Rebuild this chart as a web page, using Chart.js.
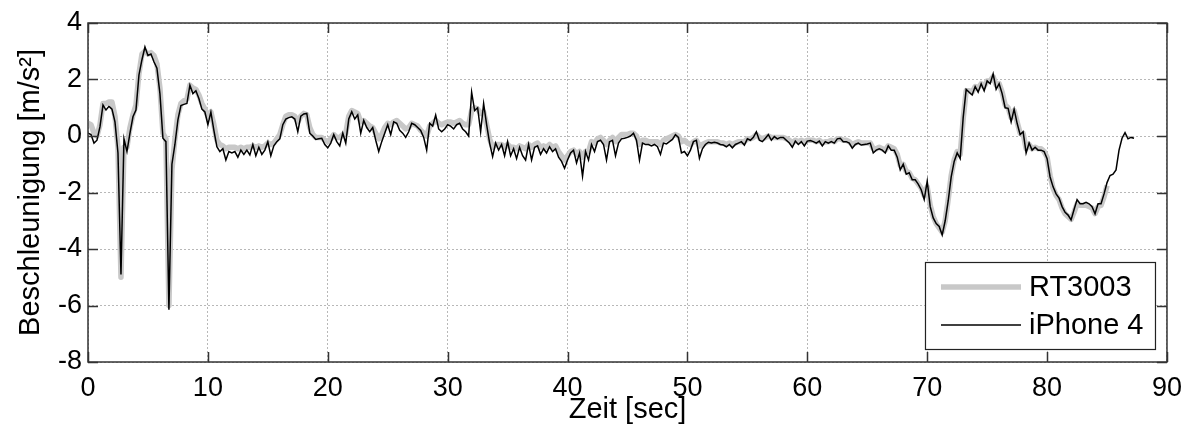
<!DOCTYPE html>
<html>
<head>
<meta charset="utf-8">
<title>Beschleunigung RT3003 / iPhone 4</title>
<script src="https://cdn.jsdelivr.net/npm/chart.js@4"></script>
<style>
  html, body { margin: 0; padding: 0; background: #fff; }
  #wrap { width: 1192px; height: 435px; }
</style>
</head>
<body>
<div id="wrap"><canvas id="beschleunigung" width="1192" height="435"></canvas></div>
<script>
// sampling step of both series (sec)
const sampleStep = 0.25;

// iPhone 4, 0 .. 87.25 s
const iphone4 = [
  0.10, 0.05, -0.25, -0.15, 0.33, 1.10, 0.92, 1.05,      // 0
  0.95, 0.50, -0.60, -4.90, -0.10, -0.55, 0.10, 0.68,    // 2
  0.92, 2.16, 2.70, 3.15, 2.85, 2.90, 2.63, 2.40,        // 4
  1.50, -0.08, -0.20, -6.15, -1.00, -0.30, 0.57, 1.08,   // 6
  1.12, 1.15, 1.80, 1.50, 1.60, 1.33, 0.95, 0.85,        // 8
  0.40, 0.85, 0.20, -0.38, -0.55, -0.45, -0.85, -0.55,   // 10
  -0.60, -0.55, -0.75, -0.50, -0.65, -0.50, -0.67, -0.30, // 12
  -0.70, -0.40, -0.65, -0.50, -0.20, -0.70, -0.35, -0.20, // 14
  -0.10, 0.40, 0.60, 0.65, 0.68, 0.60, 0.15, 0.70,       // 16
  0.78, 0.80, 0.10, 0.00, -0.12, -0.10, -0.08, -0.30,    // 18
  -0.42, -0.25, 0.05, -0.20, -0.35, 0.10, -0.25, 0.60,   // 20
  0.86, 0.60, 0.75, 0.10, 0.55, 0.30, 0.15, 0.30,        // 22
  -0.15, -0.55, -0.20, 0.10, 0.40, 0.05, 0.50, 0.45,     // 24
  0.20, 0.10, -0.05, 0.15, 0.45, 0.40, 0.30, 0.20,       // 26
  -0.05, -0.50, 0.45, 0.35, 0.74, 0.25, 0.15, 0.25,      // 28
  0.40, 0.35, 0.25, 0.40, 0.45, 0.25, 0.15, 0.00,        // 30
  1.55, 0.90, 1.00, 0.15, 1.15, 0.40, -0.25, -0.73,      // 32
  -0.25, -0.50, -0.30, -0.70, -0.20, -0.70, -0.45, -0.80, // 34
  -0.40, -0.70, -0.85, -0.30, -0.85, -0.40, -0.35, -0.65, // 36
  -0.45, -0.60, -0.38, -0.55, -0.45, -0.75, -0.90, -1.14, // 38
  -0.85, -0.60, -0.50, -0.95, -0.60, -1.42, -0.55, -0.85, // 40
  -0.30, -0.55, -0.20, -0.15, -0.30, -0.85, -0.20, -0.15, // 42
  -0.70, -0.25, -0.10, -0.08, -0.05, 0.00, 0.10, -0.15,  // 44
  -0.85, -0.25, -0.30, -0.30, -0.35, -0.30, -0.38, -0.65, // 46
  -0.25, -0.28, -0.20, -0.12, 0.05, -0.05, -0.60, -0.55, // 48
  -0.70, -0.50, -0.20, -0.15, -0.79, -0.45, -0.30, -0.22, // 50
  -0.25, -0.22, -0.25, -0.30, -0.32, -0.38, -0.30, -0.42, // 52
  -0.30, -0.25, -0.20, -0.32, -0.10, -0.15, -0.05, 0.15, // 54
  -0.15, -0.20, -0.08, 0.05, -0.15, -0.02, -0.10, -0.05, // 56
  -0.05, -0.15, -0.25, -0.40, -0.18, -0.30, -0.20, -0.35, // 58
  -0.18, -0.16, -0.20, -0.25, -0.18, -0.35, -0.20, -0.25, // 60
  -0.20, -0.25, -0.10, -0.08, -0.20, -0.20, -0.25, -0.43, // 62
  -0.30, -0.25, -0.32, -0.30, -0.28, -0.25, -0.60, -0.50, // 64
  -0.45, -0.50, -0.60, -0.35, -0.50, -0.50, -0.75, -1.20, // 66
  -1.00, -1.35, -1.30, -1.55, -1.55, -1.70, -1.90, -2.25, // 68
  -1.60, -2.50, -2.90, -3.10, -3.20, -3.50, -3.00, -2.30, // 70
  -1.45, -0.90, -0.60, -0.80, 0.65, 1.65, 1.55, 1.45,    // 72
  1.75, 1.55, 1.85, 1.60, 1.95, 1.85, 2.20, 1.65,        // 74
  1.85, 1.50, 1.00, 0.98, 0.50, 0.95, 0.45, 0.05,        // 76
  0.15, -0.60, -0.25, -0.50, -0.40, -0.50, -0.50, -0.55, // 78
  -0.80, -1.45, -1.80, -2.05, -2.20, -2.50, -2.70, -2.80, // 80
  -2.97, -2.60, -2.25, -2.40, -2.40, -2.35, -2.40, -2.50, // 82
  -2.75, -2.40, -2.40, -2.05, -1.65, -1.40, -1.35, -1.20, // 84
  -0.50, -0.08, 0.12, -0.10, -0.05, -0.08                 // 86
];

// RT3003 reference, 0 .. 85 s
const rt3003 = [
  0.45, 0.40, 0.10, 0.00, 0.40, 1.15, 1.15, 1.20,        // 0
  1.20, 0.70, -0.40, -5.00, -0.40, -0.40, 0.30, 0.75,    // 2
  1.10, 2.20, 2.90, 3.00, 2.90, 2.95, 2.85, 2.55,        // 4
  1.70, 0.10, -0.10, -6.00, -1.20, -0.10, 0.75, 1.15,    // 6
  1.25, 1.30, 1.80, 1.70, 1.65, 1.45, 1.15, 0.95,        // 8
  0.70, 0.85, 0.40, -0.15, -0.30, -0.35, -0.45, -0.40,   // 10
  -0.40, -0.40, -0.45, -0.40, -0.45, -0.40, -0.40, -0.35, // 12
  -0.40, -0.35, -0.40, -0.35, -0.25, -0.30, -0.25, -0.10, // 14
  0.05, 0.40, 0.70, 0.75, 0.75, 0.70, 0.50, 0.70,        // 16
  0.80, 0.75, 0.30, 0.05, -0.05, -0.05, -0.05, -0.15,    // 18
  -0.20, -0.10, 0.05, -0.05, -0.05, 0.05, 0.10, 0.70,    // 20
  0.90, 0.85, 0.80, 0.50, 0.55, 0.45, 0.35, 0.30,        // 22
  0.10, -0.10, 0.05, 0.30, 0.45, 0.40, 0.50, 0.55,       // 24
  0.45, 0.35, 0.25, 0.30, 0.45, 0.40, 0.35, 0.20,        // 26
  0.10, 0.00, 0.35, 0.45, 0.55, 0.45, 0.40, 0.45,        // 28
  0.50, 0.50, 0.45, 0.50, 0.55, 0.45, 0.40, 0.40,        // 30
  0.90, 1.00, 0.95, 0.80, 0.85, 0.40, -0.10, -0.40,      // 32
  -0.30, -0.30, -0.30, -0.40, -0.30, -0.40, -0.40, -0.45, // 34
  -0.35, -0.40, -0.45, -0.30, -0.40, -0.30, -0.25, -0.40, // 36
  -0.35, -0.40, -0.30, -0.40, -0.35, -0.55, -0.70, -0.85, // 38
  -0.70, -0.55, -0.50, -0.65, -0.55, -0.75, -0.55, -0.55, // 40
  -0.20, -0.25, -0.10, -0.05, -0.15, -0.30, -0.15, -0.05, // 42
  -0.20, -0.05, 0.05, 0.05, 0.05, 0.10, 0.10, 0.00,      // 44
  -0.30, -0.15, -0.15, -0.20, -0.20, -0.20, -0.20, -0.30, // 46
  -0.15, -0.10, -0.05, 0.00, 0.05, 0.00, -0.20, -0.15,   // 48
  -0.25, -0.30, -0.20, -0.15, -0.35, -0.30, -0.25, -0.20, // 50
  -0.20, -0.20, -0.20, -0.25, -0.25, -0.30, -0.25, -0.30, // 52
  -0.25, -0.20, -0.20, -0.20, -0.10, -0.10, -0.05, 0.05, // 54
  -0.05, -0.10, -0.05, 0.00, -0.05, -0.05, -0.05, -0.05, // 56
  -0.05, -0.10, -0.15, -0.25, -0.15, -0.20, -0.15, -0.20, // 58
  -0.15, -0.15, -0.15, -0.20, -0.15, -0.25, -0.20, -0.20, // 60
  -0.15, -0.20, -0.10, -0.10, -0.15, -0.15, -0.20, -0.30, // 62
  -0.25, -0.20, -0.25, -0.25, -0.25, -0.25, -0.45, -0.45, // 64
  -0.40, -0.45, -0.50, -0.35, -0.40, -0.45, -0.65, -1.05, // 66
  -1.00, -1.25, -1.30, -1.50, -1.55, -1.70, -1.85, -2.10, // 68
  -1.80, -2.45, -2.85, -3.10, -3.25, -3.40, -3.00, -2.25, // 70
  -1.40, -0.85, -0.55, -0.65, 0.60, 1.60, 1.60, 1.55,    // 72
  1.75, 1.70, 1.85, 1.75, 1.95, 1.95, 2.10, 1.80,        // 74
  1.85, 1.55, 1.10, 1.00, 0.65, 0.90, 0.50, 0.10,        // 76
  0.10, -0.45, -0.30, -0.45, -0.40, -0.45, -0.45, -0.55, // 78
  -0.75, -1.40, -1.85, -2.10, -2.25, -2.55, -2.75, -2.85, // 80
  -2.95, -2.70, -2.40, -2.45, -2.45, -2.45, -2.50, -2.55, // 82
  -2.75, -2.50, -2.45, -2.15, -1.75                       // 84
];

const xTickValues = [0, 10, 20, 30, 40, 50, 60, 70, 80, 90];
const yTickValues = [-8, -6, -4, -2, 0, 2, 4];

const toPoints = (values) => values.map((v, i) => ({ x: i * sampleStep, y: v }));

const familie = "'Liberation Sans', Arial, sans-serif";
const tickSchrift = { family: familie, size: 27 };
const titelSchrift = { family: familie, size: 29 };
const legendenGroesse = 29;
const rahmenFarbe = '#333333';

// MATLAB style box with inward ticks, plus the legend in the lower right
const rahmenPlugin = {
  id: 'rahmen',
  afterDraw(chart) {
    const { ctx, chartArea: a, scales } = chart;
    const tl = 10;
    ctx.save();
    ctx.strokeStyle = rahmenFarbe;
    ctx.lineWidth = 1.5;
    ctx.beginPath();
    xTickValues.forEach((v) => {
      const px = Math.round(scales.x.getPixelForValue(v)) + 0.5;
      ctx.moveTo(px, a.bottom); ctx.lineTo(px, a.bottom - tl);
      ctx.moveTo(px, a.top); ctx.lineTo(px, a.top + tl);
    });
    yTickValues.forEach((v) => {
      const py = Math.round(scales.y.getPixelForValue(v)) + 0.5;
      ctx.moveTo(a.left, py); ctx.lineTo(a.left + tl, py);
      ctx.moveTo(a.right, py); ctx.lineTo(a.right - tl, py);
    });
    ctx.stroke();
    ctx.strokeRect(a.left, a.top, a.right - a.left, a.bottom - a.top);

    // legend
    const w = 230, h = 87;
    const bx = a.right - 12 - w, by = a.bottom - 13 - h;
    ctx.fillStyle = '#fff';
    ctx.fillRect(bx, by, w, h);
    ctx.lineWidth = 1.2;
    ctx.strokeStyle = '#222';
    ctx.strokeRect(bx + 0.5, by + 0.5, w, h);
    ctx.font = legendenGroesse + 'px ' + familie;
    ctx.textBaseline = 'middle';
    ctx.fillStyle = '#000';
    const rows = [by + 25, by + 63];
    chart.data.datasets.forEach((ds, i) => {
      const y = rows[i];
      ctx.strokeStyle = ds.borderColor;
      ctx.lineWidth = ds.borderWidth;
      ctx.beginPath();
      ctx.moveTo(bx + 16, y);
      ctx.lineTo(bx + 96, y);
      ctx.stroke();
      ctx.fillText(ds.label, bx + 104, y + 1);
    });
    ctx.restore();
  }
};

new Chart(document.getElementById('beschleunigung'), {
  type: 'line',
  data: {
    datasets: [
      {
        label: 'RT3003',
        data: toPoints(rt3003),
        borderColor: '#c8c8c8',
        borderWidth: 5.5,
        borderJoinStyle: 'round',
        pointRadius: 0,
        tension: 0,
        order: 1,
      },
      {
        label: 'iPhone 4',
        data: toPoints(iphone4),
        borderColor: '#000000',
        borderWidth: 1.5,
        pointRadius: 0,
        tension: 0,
        order: 0,
      },
    ],
  },
  options: {
    responsive: false,
    animation: false,
    devicePixelRatio: 1,
    layout: { padding: { top: 23, right: 25, left: 0, bottom: 0 } },
    plugins: { legend: { display: false }, tooltip: { enabled: false } },
    scales: {
      x: {
        type: 'linear',
        min: 0,
        max: 90,
        afterBuildTicks: (s) => { s.ticks = xTickValues.map((v) => ({ value: v })); },
        afterFit: (s) => { s.height = 73; },
        grid: { color: '#b8b8b8', lineWidth: 1, drawTicks: false },
        border: { display: false, dash: [2, 2] },
        ticks: { padding: 10, font: tickSchrift, color: '#000', maxRotation: 0, autoSkip: false },
        title: { display: true, text: 'Zeit [sec]', font: titelSchrift, color: '#000', padding: { top: 0, bottom: 8 } },
      },
      y: {
        type: 'linear',
        min: -8,
        max: 4,
        afterBuildTicks: (s) => { s.ticks = yTickValues.map((v) => ({ value: v })); },
        afterFit: (s) => { s.width = 88; },
        grid: { color: '#b8b8b8', lineWidth: 1, drawTicks: false },
        border: { display: false, dash: [2, 2] },
        ticks: { padding: 6, font: tickSchrift, color: '#000', autoSkip: false },
        title: { display: true, text: 'Beschleunigung [m/s²]', font: titelSchrift, color: '#000', padding: { top: 14, bottom: 0 } },
      },
    },
  },
  plugins: [rahmenPlugin],
});
</script>
</body>
</html>
